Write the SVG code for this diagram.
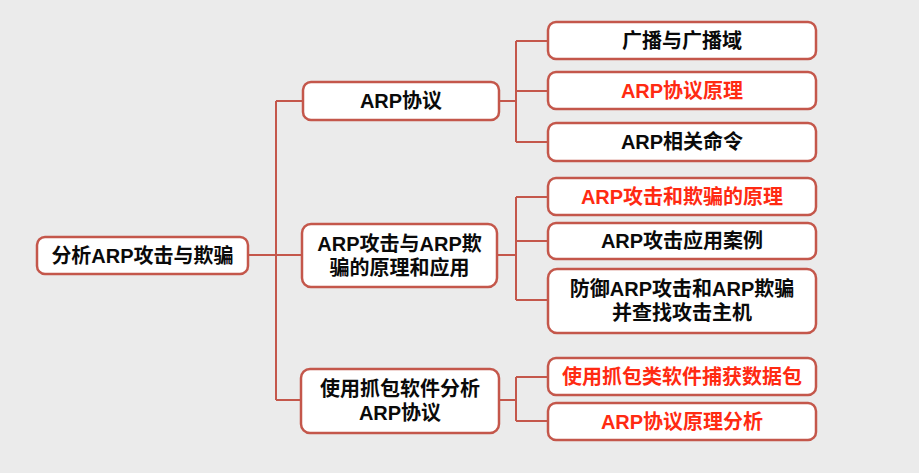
<svg xmlns="http://www.w3.org/2000/svg" width="919" height="473" viewBox="0 0 919 473">
<style>
.bg{fill:#ebebeb}
.box{fill:#ffffff;stroke:#c4574b;stroke-width:2.5}
.ln{fill:none;stroke:#c4574b;stroke-width:2}
text{font-family:"Liberation Sans","Noto Sans CJK SC",sans-serif;font-weight:bold;font-size:20px;fill:#0a0a0a;text-anchor:middle;dominant-baseline:central}
.red{fill:#ff2a12}
</style>
<rect class="bg" x="0" y="0" width="919" height="473"/>
<g id="connectors">
<path class="ln" d="M248,255 H276 M276,101 V400 M276,101 H303 M276,255 H302 M276,400 H301"/>
<path class="ln" d="M499,101 H516 M516,41 V142 M516,41 H548 M516,91 H548 M516,142 H548"/>
<path class="ln" d="M497,255 H516 M516,197 V300 M516,197 H548 M516,241 H548 M516,300 H548"/>
<path class="ln" d="M499,400 H516 M516,377 V421 M516,377 H548 M516,421 H548"/>
</g>
<g id="root"><rect class="box" x="37" y="237" width="211" height="37" rx="8"/><text x="142.5" y="256">分析ARP攻击与欺骗</text></g>
<g id="n1"><rect class="box" x="303" y="82" width="196" height="38" rx="8"/><text x="401" y="101">ARP协议</text></g>
<g id="n2"><rect class="box" x="302" y="224" width="195" height="63" rx="9"/><text x="399.5" y="244">ARP攻击与ARP欺</text><text x="399.5" y="268">骗的原理和应用</text></g>
<g id="n3"><rect class="box" x="301" y="369" width="198" height="64" rx="9"/><text x="400" y="389">使用抓包软件分析</text><text x="400" y="413">ARP协议</text></g>
<g id="n11"><rect class="box" x="548" y="22" width="268" height="37" rx="8"/><text x="682" y="41">广播与广播域</text></g>
<g id="n12"><rect class="box" x="548" y="72" width="268" height="37" rx="8"/><text class="red" x="682" y="91">ARP协议原理</text></g>
<g id="n13"><rect class="box" x="548" y="123" width="268" height="38" rx="8"/><text x="682" y="142">ARP相关命令</text></g>
<g id="n21"><rect class="box" x="548" y="178" width="268" height="37" rx="8"/><text class="red" x="682" y="197">ARP攻击和欺骗的原理</text></g>
<g id="n22"><rect class="box" x="548" y="223" width="268" height="36" rx="8"/><text x="682" y="241">ARP攻击应用案例</text></g>
<g id="n23"><rect class="box" x="548" y="269" width="268" height="64" rx="9"/><text x="682" y="289">防御ARP攻击和ARP欺骗</text><text x="682" y="313">并查找攻击主机</text></g>
<g id="n31"><rect class="box" x="548" y="358" width="268" height="37" rx="8"/><text class="red" x="682" y="377">使用抓包类软件捕获数据包</text></g>
<g id="n32"><rect class="box" x="548" y="403" width="268" height="37" rx="8"/><text class="red" x="682" y="422">ARP协议原理分析</text></g>
</svg>
